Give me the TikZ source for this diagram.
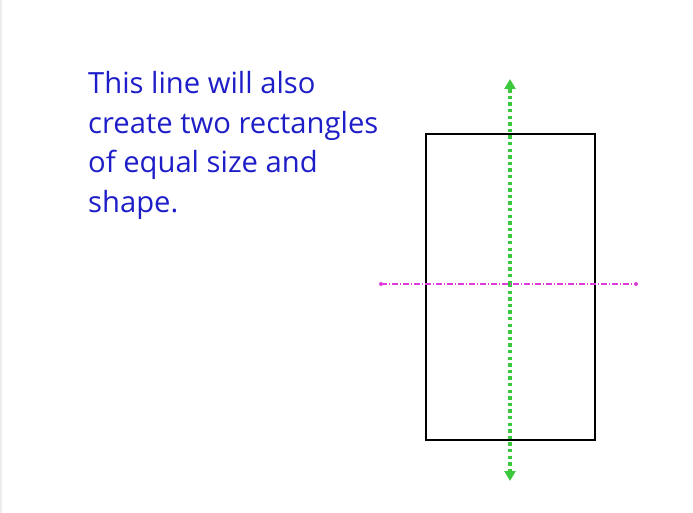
\documentclass[tikz,border=0pt]{standalone}
\usepackage{fontspec}
\setmainfont{Open Sans}
\usetikzlibrary{arrows.meta}
\definecolor{txtblue}{RGB}{30,30,200}
\definecolor{lgreen}{RGB}{60,200,60}
\definecolor{mag}{RGB}{220,60,220}
\begin{document}
\begin{tikzpicture}[x=1pt,y=-1pt,
  rectbox/.style={draw=black,line width=1.6pt,minimum width=169pt,minimum height=306pt,inner sep=0pt},
  greenline/.style={draw=lgreen,line width=3.4pt,dash pattern=on 3.4pt off 3.2pt,-{Triangle[width=11pt,length=10pt,sep=0pt]}},
  magline/.style={draw=mag,line width=1.1pt,dash pattern=on 6pt off 2pt on 1pt off 2pt},
  enddot/.style={circle,fill=mag,inner sep=0pt,minimum size=4pt},
  caption/.style={text=txtblue,font=\fontsize{29.2}{39.5}\selectfont,align=left,anchor=base west,inner sep=0pt}]
\useasboundingbox (0,0) rectangle (693,513);
\fill[black!7] (0,0) rectangle (2,513);
\node[rectbox] (r) at (510.5,287) {};
\coordinate (gc) at (510,284);
\coordinate (gt) at (510,79);
\coordinate (gb) at (510,481);
\draw[greenline] (gc) -- (gt);
\draw[greenline] (gc) -- (gb);
\node[enddot] (ml) at (381,284) {};
\node[enddot] (mr) at (636,284) {};
\draw[magline] (ml.center) -- (mr.center);
\node[caption] (t) at (88,212) {This line will also\\create two rectangles\\of equal size and\\shape.};
\end{tikzpicture}
\end{document}
